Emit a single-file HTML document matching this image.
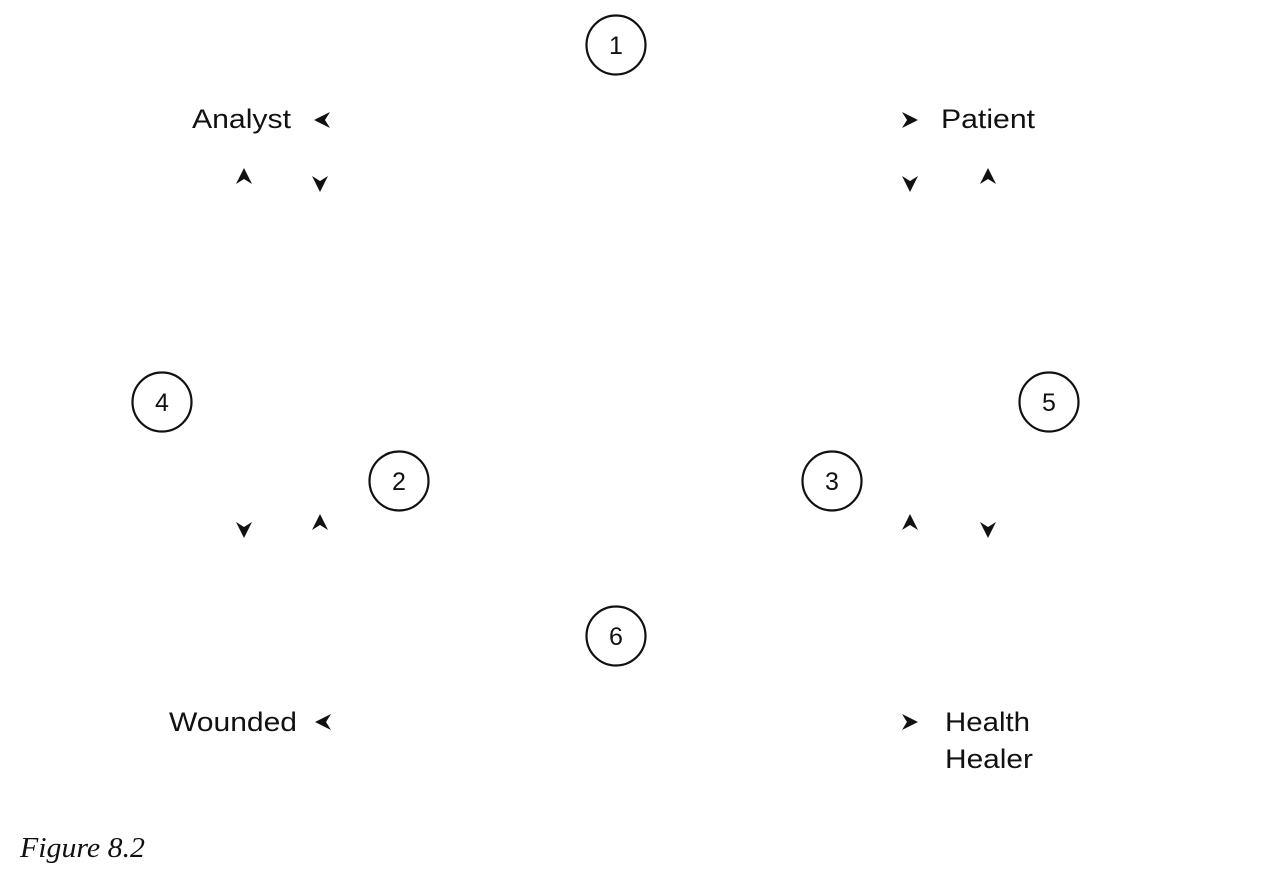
<!DOCTYPE html>
<html><head><meta charset="utf-8"><style>
html,body{margin:0;padding:0;background:#fff;}
svg{display:block;}
text{font-family:"Liberation Sans",sans-serif;fill:#111;}
</style></head><body>
<svg width="1286" height="874" viewBox="0 0 1286 874">
<defs>
<path id="ar" d="M0,-8 L8,8 L0,3 L-8,8 Z" fill="#111"/>
</defs>
<g fill="none" stroke="#111" stroke-width="2.2">
<circle cx="616" cy="45" r="29.5"/>
<circle cx="162" cy="402" r="29.5"/>
<circle cx="399" cy="481" r="29.5"/>
<circle cx="1049" cy="402" r="29.5"/>
<circle cx="832" cy="481" r="29.5"/>
<circle cx="616" cy="636" r="29.5"/>
</g>
<g font-size="25" text-anchor="middle">
<text x="616" y="54">1</text>
<text x="162" y="411">4</text>
<text x="399" y="490">2</text>
<text x="1049" y="411">5</text>
<text x="832" y="490">3</text>
<text x="616" y="645">6</text>
</g>
<g font-size="27">
<text x="192" y="128" textLength="99" lengthAdjust="spacingAndGlyphs">Analyst</text>
<text x="941" y="128" textLength="94" lengthAdjust="spacingAndGlyphs">Patient</text>
<text x="169" y="731" textLength="128" lengthAdjust="spacingAndGlyphs">Wounded</text>
<text x="945" y="731" textLength="85" lengthAdjust="spacingAndGlyphs">Health</text>
<text x="945" y="768" textLength="88" lengthAdjust="spacingAndGlyphs">Healer</text>
</g>
<text x="20" y="857" font-style="italic" font-size="29" textLength="125" lengthAdjust="spacingAndGlyphs" style="font-family:'Liberation Serif',serif">Figure 8.2</text>
<use href="#ar" transform="translate(322,120) rotate(-90)"/>
<use href="#ar" transform="translate(244,176)"/>
<use href="#ar" transform="translate(320,184) rotate(180)"/>
<use href="#ar" transform="translate(910,120) rotate(90)"/>
<use href="#ar" transform="translate(910,184) rotate(180)"/>
<use href="#ar" transform="translate(988,176)"/>
<use href="#ar" transform="translate(244,530) rotate(180)"/>
<use href="#ar" transform="translate(320,522)"/>
<use href="#ar" transform="translate(910,522)"/>
<use href="#ar" transform="translate(988,530) rotate(180)"/>
<use href="#ar" transform="translate(323,722) rotate(-90)"/>
<use href="#ar" transform="translate(910,722) rotate(90)"/>
</svg>
</body></html>
